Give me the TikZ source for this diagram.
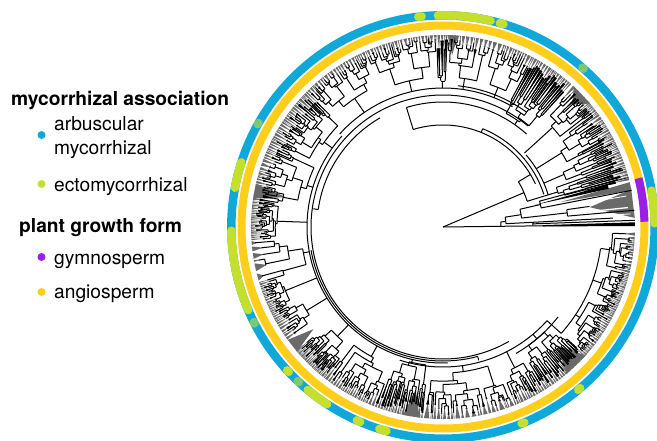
\documentclass[tikz,border=0pt]{standalone}
\usepackage{fontspec}
\setmainfont{TeX Gyre Heros}
\definecolor{cblue}{HTML}{10A8D8}
\definecolor{cyell}{HTML}{FFCE1A}
\definecolor{cpurp}{HTML}{9B1FE8}
\definecolor{clime}{HTML}{C4E02D}
\definecolor{ctip}{HTML}{6A6A6A}
\tikzset{
  tl/.style={draw=black,line width=1pt},
  ringb/.style={draw=cblue,line width=8.5pt},
  ringy/.style={draw=cyell,line width=8pt},
  ringp/.style={draw=cpurp,line width=8pt},
  ecto/.style={draw=clime,line width=8.5pt,line cap=round},
  ectot/.style={draw=clime,draw opacity=.6,line width=8.5pt,line cap=round},
  head/.style={font=\bfseries\fontsize{19.2}{21}\selectfont,anchor=base west,inner sep=0pt},
  item/.style={font=\fontsize{19.2}{21}\selectfont,anchor=base west,inner sep=0pt},
  dot/.style={circle,inner sep=0pt,minimum size=8pt}
}
\def\Rt{192}
\newcommand\radl[3]{\draw[tl] (#1:#2) -- (#1:#3);}
\newcommand\arcl[3]{\draw[tl] (#2:#1) arc[start angle=#2,end angle=#3,radius=#1];}
\newcommand\ringarc[4]{\draw[#1] (#3:#2) arc[start angle=#3,end angle=#4,radius=#2];}
\newcommand\bigtip[3]{\fill[ctip] (#1:\Rt) -- ({(#1+#2)/2}:#3) -- (#2:\Rt) -- cycle;}
\newcommand\leafend[3]{%
  \pgfmathsetmacro\lm{(#1+#2)/2}%
  \pgfmathsetmacro\lr{max(#3,\Rt-3-12*rnd)}%
  \pgfmathsetmacro\ga{\lm-(#2-#1)*.38}\pgfmathsetmacro\gb{\lm+(#2-#1)*.38}%
  \fill[ctip] (\ga:\Rt) -- (\lm:\lr-2) -- (\gb:\Rt) -- cycle;%
  \ifdim\blk pt>0pt
    \pgfmathsetmacro\hw{(#2-#1)/2*\blk}%
    \pgfmathsetmacro\la{\lm-\hw}\pgfmathsetmacro\lb{\lm+\hw}%
    \fill[black] (\lm:#3) -- (\la:\lr) -- (\lb:\lr) -- cycle;%
  \fi
  \radl{\lm}{#3}{\lr}}
\newcommand\clade[3]{%
  \pgfmathsetmacro\csp{#2-#1}%
  \ifdim\csp pt<\minsp pt
    \leafend{#1}{#2}{#3}%
  \else
    \pgfmathsetmacro\frc{.1+.8*rnd}%
    \pgfmathsetmacro\ssplit{#1+\csp*\frc}%
    \pgfmathsetmacro\ma{(#1+\ssplit)/2}%
    \pgfmathsetmacro\mb{(\ssplit+#2)/2}%
    \pgfmathsetmacro\ra{#3+(\Rt-#3)*(.03+\fmax*(1-\frc)*(.4+rnd))}%
    \pgfmathsetmacro\rb{#3+(\Rt-#3)*(.03+\fmax*\frc*(.4+rnd))}%
    \arcl{#3}{\ma}{\mb}\radl{\ma}{#3}{\ra}\radl{\mb}{#3}{\rb}%
    \edef\next{\noexpand\clade{#1}{\ssplit}{\ra}\noexpand\clade{\ssplit}{#2}{\rb}}\next
  \fi}
% a1 a2 r0 r1 minspan fmax blackfraction
\newcommand\cl[7]{%
  \pgfmathsetmacro\cm{(#1+#2)/2}\radl{\cm}{#3}{#4}%
  \def\minsp{#5}\def\fmax{#6}\def\blk{#7}\clade{#1}{#2}{#4}}
\begin{document}
\begin{tikzpicture}[x=1pt,y=1pt]
\useasboundingbox (0,-440) rectangle (657,0);
\clip (0,-440) rectangle (657,0);
% legend
\node[head] (h1) at (11,-105) {mycorrhizal association};
\node[dot,fill=cblue] (d1) at (41.5,-135) {};
\node[item] (t1a) at (54,-130) {arbuscular};
\node[item] (t1b) at (54,-154) {mycorrhizal};
\node[dot,fill=clime] (d2) at (41.5,-184) {};
\node[item] (t2) at (54,-191) {ectomycorrhizal};
\node[head] (h2) at (19,-232) {plant growth form};
\node[dot,fill=cpurp] (d3) at (41.5,-257) {};
\node[item] (t3) at (54,-264) {gymnosperm};
\node[dot,fill=cyell] (d4) at (41.5,-292) {};
\node[item] (t4) at (54,-298) {angiosperm};
\begin{scope}[shift={(443,-227)}]
\pgfmathsetseed{4711}
% rings
\draw[ringb] (0,0) circle[radius=211.7];
\draw[ringy] (0,0) circle[radius=201.5];
\ringarc{ringp}{201.5}{1.5}{14}
\foreach \s/\e in {96.7/95.8,91.4/86.5,85.4/77,74.4/73.4,9.9/1,-49.6/-50.3,-67.4/-68.2,252.5/254.5,247/246,230.3/236.8,222.6/223.2,181/203.1,162.2/169.3}
  {\ringarc{ecto}{211.7}{\s}{\e}}
\foreach \s/\e in {48.4/48.8,226.7/227.1,206.7/207.1,150.6/151}
  {\ringarc{ectot}{211.7}{\s}{\e}}
% root and fan of the gymnosperm side
\fill[ctip] (2.7:\Rt) -- (7.7:148) -- (11.3:\Rt) -- cycle;
\fill[ctip] (11:\Rt) -- (12:120) -- (13.5:\Rt) -- cycle;
\fill[black] (.3:100) -- (.3:\Rt) -- (1.4:\Rt) -- (1.1:100) -- cycle;
\fill[black] (13.5:95) -- (13:170) -- (14.4:170) -- cycle;
\radl{.7}{0}{\Rt}
\radl{23}{0}{88}
\arcl{58}{1}{5}\radl{5}{58}{63}
\arcl{63}{3}{9}\radl{3}{63}{170}\radl{2}{90}{\Rt}\arcl{90}{1}{3}
\radl{9}{63}{79}\arcl{79}{6.5}{13}\radl{6.5}{79}{125}
\arcl{125}{5}{8}\radl{8}{125}{148}\radl{5}{125}{\Rt}
\radl{13}{79}{100}\arcl{100}{11}{15}\radl{11}{100}{\Rt}\radl{15}{100}{\Rt}
\draw[white,line width=1.3pt] (6:135) -- (6:186);
\draw[white,line width=.8pt] (9.6:150) -- (9.6:186);
\draw[white,line width=.8pt] (4:150) -- (4:188);
% large tip fans
\bigtip{167}{171.5}{160}
\bigtip{216}{220.5}{165}
\bigtip{85.5}{88.5}{172}
\bigtip{258}{263}{165}
\bigtip{310}{318}{165}
\bigtip{40}{47}{178}
% backbone
\arcl{88}{17}{31}
\radl{31}{88}{102}\radl{17}{88}{110}
\arcl{102}{25}{107}\radl{107}{102}{125}
\arcl{106}{18}{68}\radl{68}{102}{106}
\arcl{125}{48}{107}
\arcl{110}{17}{41}
\arcl{132}{50}{300}
\arcl{139}{60}{138}
\arcl{136}{138}{272}
\arcl{126}{120}{172}\radl{172}{126}{131}
\arcl{134}{190}{285}\radl{285}{134}{138}
\arcl{140}{252}{318}
\arcl{146}{300}{322}\arcl{159}{318}{352}\radl{318}{140}{159}
\arcl{142}{54}{84}
% clades
\cl{14}{20}{110}{120}{1}{.4}{.85}
\cl{20}{27}{110}{132}{1}{.45}{.85}
\cl{27}{37}{110}{140}{1.2}{.6}{.6}
\cl{37}{47.5}{110}{148}{1.2}{.6}{.6}
\cl{48}{62}{125}{130}{1.2}{.2}{.9}
\cl{62}{75}{139}{150}{1.6}{.7}{.7}
\cl{75}{88.5}{139}{150}{1.6}{.7}{.8}
\cl{88.5}{92}{139}{146}{1.1}{.2}{1}
\cl{92}{114}{139}{150}{1.6}{.75}{.7}
\cl{114}{135}{139}{156}{1.6}{.75}{.7}
\cl{135}{154}{136}{146}{1.2}{.4}{.9}
\cl{154}{172}{136}{142}{1.4}{.5}{.8}
\cl{172}{184}{136}{166}{.8}{.3}{1}
\cl{184}{197}{136}{142}{3.2}{.8}{0}
\cl{197}{207}{136}{170}{1}{.4}{.75}
\cl{207}{216}{136}{160}{1.1}{.5}{.8}
\cl{220}{232}{136}{152}{.9}{.4}{.9}
\cl{232}{250}{136}{148}{1.2}{.6}{.85}
\cl{250}{264}{136}{139}{1.1}{.3}{.85}
\cl{264}{292}{140}{146}{2.2}{.7}{.5}
\cl{292}{302}{140}{158}{1.1}{.4}{.8}
\cl{302}{318}{140}{146}{1.1}{.3}{.9}
\cl{318}{335}{159}{164}{1}{.5}{.85}
\cl{335}{346}{159}{168}{1}{.5}{.8}
\cl{346}{358.5}{159}{168}{1.3}{.6}{.6}
\end{scope}
\end{tikzpicture}
\end{document}
